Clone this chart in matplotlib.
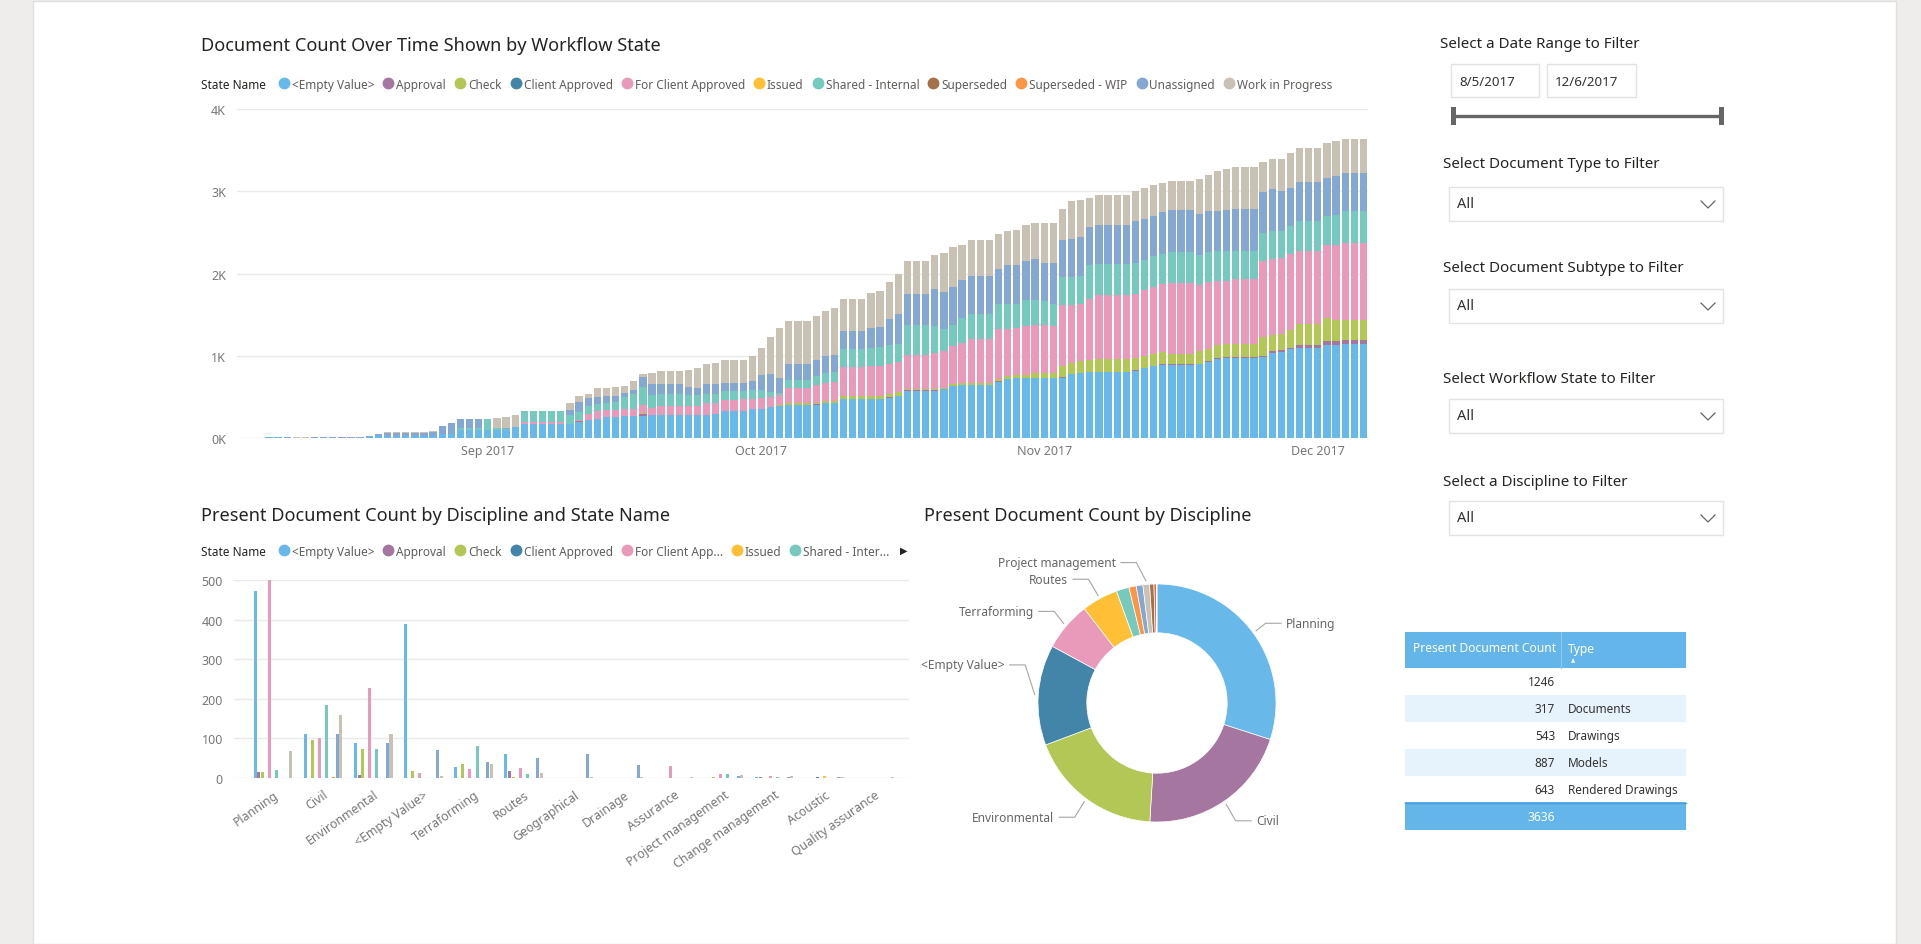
import numpy as np
import pandas as pd
import matplotlib
matplotlib.use("Agg")
import matplotlib.pyplot as plt
from matplotlib.patches import Rectangle
from matplotlib.lines import Line2D

plt.rcParams["font.family"] = ["Noto Sans", "DejaVu Sans"]

W, H = 1921, 945

# ---------------- data ----------------
states = ["<Empty Value>", "Approval", "Check", "Client Approved", "For Client Approved",
          "Issued", "Shared - Internal", "Superseded", "Superseded - WIP", "Unassigned",
          "Work in Progress"]
state_colors = ["#69B8EA", "#A476A0", "#B3C757", "#4285A8", "#E99ABA", "#FFC037",
                "#75C9BE", "#A6704A", "#FC9644", "#85A8D2", "#C9C2B4"]

# daily document counts per state, 8/5/2017 .. 12/6/2017
days = pd.date_range("2017-08-05", "2017-12-06", freq="D")
cnt_empty = [0, 0, 0, 10, 10, 0, 0, 0, 0, 0,
             0, 0, 0, 0, 8, 20, 25, 25, 25, 25,
             25, 25, 45, 45, 100, 100, 100, 100, 100, 100,
             135, 165, 165, 165, 165, 165, 170, 200, 219, 231,
             250, 260, 264, 268, 272, 276, 284, 284, 284, 284,
             284, 284, 296, 324, 324, 332, 349, 357, 373, 389,
             400, 400, 400, 405, 420, 425, 470, 470, 470, 470,
             470, 491, 507, 576, 576, 576, 576, 592, 633, 641,
             641, 641, 641, 684, 717, 725, 725, 725, 725, 725,
             733, 778, 790, 798, 798, 798, 798, 798, 818, 847,
             871, 885, 885, 885, 885, 895, 923, 963, 971, 975,
             975, 975, 988, 1034, 1046, 1079, 1095, 1095, 1095, 1135,
             1135, 1148, 1148, 1148]
cnt_approval = [0, 0, 0, 0, 0, 0, 0, 0, 0, 0,
                0, 0, 0, 0, 0, 0, 0, 0, 0, 0,
                0, 0, 0, 0, 0, 0, 0, 0, 0, 0,
                0, 0, 0, 0, 0, 0, 0, 8, 0, 0,
                0, 0, 0, 0, 18, 0, 0, 0, 0, 0,
                0, 0, 0, 0, 0, 0, 0, 0, 0, 0,
                5, 5, 5, 5, 5, 5, 8, 8, 8, 8,
                8, 8, 8, 5, 5, 5, 5, 5, 5, 5,
                5, 5, 5, 5, 5, 5, 5, 5, 5, 5,
                5, 5, 5, 5, 8, 8, 8, 8, 5, 5,
                5, 15, 10, 10, 10, 10, 10, 10, 10, 10,
                10, 10, 10, 20, 20, 16, 35, 35, 35, 40,
                40, 44, 44, 44]
cnt_check = [0, 0, 0, 0, 0, 0, 0, 0, 0, 0,
             0, 0, 0, 0, 0, 0, 0, 0, 0, 0,
             0, 0, 0, 0, 0, 0, 0, 0, 0, 0,
             0, 0, 0, 0, 0, 0, 0, 0, 0, 0,
             0, 0, 0, 0, 8, 0, 0, 0, 0, 0,
             0, 0, 0, 0, 0, 0, 0, 0, 5, 8,
             15, 15, 15, 15, 20, 20, 32, 32, 32, 32,
             32, 40, 40, 15, 15, 15, 15, 15, 20, 25,
             28, 28, 28, 25, 28, 40, 40, 65, 65, 65,
             138, 133, 138, 150, 151, 151, 151, 151, 150, 146,
             146, 146, 131, 131, 131, 149, 154, 162, 167, 158,
             158, 158, 231, 203, 203, 223, 253, 253, 253, 285,
             257, 240, 240, 240]
cnt_for_client = [0, 0, 0, 0, 0, 0, 0, 0, 0, 0,
                  0, 0, 0, 0, 0, 0, 0, 0, 0, 0,
                  0, 0, 0, 0, 0, 0, 0, 0, 0, 0,
                  0, 25, 25, 25, 25, 25, 0, 10, 73, 100,
                  85, 80, 85, 89, 107, 89, 105, 105, 105, 105,
                  105, 146, 134, 134, 134, 138, 129, 130, 121, 122,
                  185, 185, 185, 215, 220, 225, 358, 358, 358, 366,
                  366, 365, 370, 410, 410, 410, 442, 442, 461, 489,
                  534, 534, 534, 608, 580, 568, 592, 584, 584, 567,
                  738, 706, 701, 742, 787, 787, 787, 787, 783, 798,
                  815, 831, 864, 864, 864, 811, 811, 775, 766, 787,
                  787, 787, 920, 925, 921, 924, 888, 888, 888, 884,
                  920, 944, 944, 944]
cnt_shared = [0, 0, 0, 0, 0, 0, 0, 0, 0, 0,
              0, 0, 0, 0, 0, 0, 0, 0, 0, 0,
              0, 0, 0, 0, 18, 18, 18, 130, 25, 15,
              0, 143, 143, 143, 143, 143, 110, 95, 100, 80,
              90, 95, 150, 182, 215, 162, 150, 150, 150, 130,
              138, 109, 109, 110, 110, 98, 102, 93, 61, 32,
              100, 100, 100, 110, 122, 122, 215, 215, 215, 223,
              225, 223, 223, 365, 365, 365, 325, 276, 260, 300,
              305, 305, 305, 312, 304, 296, 313, 296, 284, 272,
              345, 337, 337, 405, 369, 369, 369, 369, 377, 365,
              377, 365, 373, 373, 373, 357, 365, 361, 357, 349,
              349, 349, 349, 332, 324, 337, 365, 365, 365, 357,
              365, 381, 381, 381]
cnt_unassigned = [0, 0, 0, 0, 0, 10, 0, 0, 8, 8,
                  8, 8, 8, 8, 12, 25, 40, 40, 40, 40,
                  40, 52, 105, 135, 112, 112, 112, 0, 0, 5,
                  0, 0, 0, 0, 0, 0, 60, 130, 100, 85,
                  80, 80, 50, 41, 122, 126, 114, 114, 114, 101,
                  85, 114, 114, 101, 101, 101, 117, 190, 223, 179,
                  195, 195, 195, 200, 215, 215, 223, 223, 223, 243,
                  245, 325, 365, 385, 385, 385, 446, 446, 454, 458,
                  458, 458, 458, 426, 466, 466, 474, 507, 470, 499,
                  446, 466, 474, 467, 474, 474, 474, 474, 503, 507,
                  487, 507, 507, 507, 507, 507, 494, 486, 499, 511,
                  511, 511, 487, 511, 495, 462, 478, 478, 478, 462,
                  470, 459, 459, 459]
cnt_wip = [0, 0, 0, 0, 0, 0, 10, 10, 8, 8,
           8, 8, 8, 8, 8, 0, 8, 8, 8, 8,
           8, 8, 0, 0, 0, 0, 0, 0, 118, 130,
           150, 0, 0, 0, 0, 0, 86, 65, 40, 110,
           100, 105, 88, 109, 41, 142, 162, 162, 162, 211,
           240, 251, 259, 276, 276, 276, 301, 329, 446, 608,
           527, 527, 527, 530, 543, 563, 379, 379, 379, 418,
           438, 446, 486, 397, 397, 397, 421, 479, 491, 434,
           434, 434, 434, 426, 414, 434, 438, 438, 487, 487,
           385, 454, 454, 353, 373, 373, 373, 373, 365, 373,
           373, 357, 360, 360, 360, 426, 438, 487, 506, 507,
           507, 507, 372, 365, 389, 418, 414, 414, 414, 418,
           422, 420, 420, 420]
top_series = [("<Empty Value>", cnt_empty), ("Approval", cnt_approval), ("Check", cnt_check),
              ("For Client Approved", cnt_for_client), ("Shared - Internal", cnt_shared),
              ("Unassigned", cnt_unassigned), ("Work in Progress", cnt_wip)]

# present count by discipline and state
disciplines = ["Planning", "Civil", "Environmental", "<Empty Value>", "Terraforming", "Routes",
               "Geographical", "Drainage", "Assurance", "Project management",
               "Change management", "Acoustic", "Quality assurance"]
disc_empty = [473, 110, 88, 390, 27, 60, 0, 0, 0, 0, 3, 0, 0]
disc_approval = [15, 0, 7, 0, 0, 18, 0, 0, 0, 0, 3, 0, 0]
disc_check = [15, 97, 74, 18, 36, 3, 0, 0, 0, 3, 0, 0, 0]
disc_client_approved = [0, 0, 0, 0, 0, 0, 0, 0, 0, 0, 0, 3, 0]
disc_for_client = [500, 100, 227, 13, 23, 25, 0, 0, 30, 10, 4, 0, 0]
disc_issued = [0, 0, 0, 0, 0, 0, 0, 0, 0, 0, 0, 4, 0]
disc_shared = [20, 184, 72, 0, 80, 10, 0, 0, 0, 9, 3, 0, 0]
disc_superseded = [0, 0, 0, 0, 0, 0, 0, 0, 0, 0, 0, 0, 0]
disc_superseded_wip = [0, 3, 0, 0, 0, 0, 0, 0, 0, 0, 0, 0, 0]
disc_unassigned = [0, 112, 88, 70, 40, 50, 60, 33, 0, 4, 3, 3, 0]
disc_wip = [67, 158, 110, 5, 36, 13, 3, 3, 3, 7, 5, 2, 3]
disc_by_state = [disc_empty, disc_approval, disc_check, disc_client_approved, disc_for_client,
                 disc_issued, disc_shared, disc_superseded, disc_superseded_wip,
                 disc_unassigned, disc_wip]

donut_colors = ["#69B8EA", "#A476A0", "#B3C757", "#4285A8", "#E99ABA", "#FFC037",
                "#75C9BE", "#FC9644", "#85A8D2", "#C9C2B4", "#A6704A", "#E0704A", "#7A4A2E"]
donut_labelled = {"Planning": 0.67, "Civil": -0.99, "Environmental": -0.96,
                  "<Empty Value>": 0.32, "Terraforming": 0.77, "Routes": 1.04,
                  "Project management": 1.18}

doc_types = ["", "Documents", "Drawings", "Models", "Rendered Drawings"]
doc_counts = [1246, 317, 543, 887, 643]

date_from, date_to = "8/5/2017", "12/6/2017"
filter_titles = ["Select Document Type to Filter", "Select Document Subtype to Filter",
                 "Select Workflow State to Filter", "Select a Discipline to Filter"]

# ---------------- helpers (pixel coords, y from top) ----------------
fig = plt.figure(figsize=(W / 100, H / 100), dpi=100, facecolor="#EEEDEC")
renderer = fig.canvas.get_renderer()


def ftext(x, y, s, **kw):
    return fig.text(x / W, 1 - y / H, s, **kw)


def frect(x0, y0, x1, y1, **kw):
    fig.add_artist(Rectangle((x0 / W, 1 - y1 / H), (x1 - x0) / W, (y1 - y0) / H,
                             transform=fig.transFigure, **kw))


def fline(xs, ys, **kw):
    fig.add_artist(Line2D([x / W for x in xs], [1 - y / H for y in ys],
                          transform=fig.transFigure, **kw))


def axes_px(x0, y0, x1, y1):
    return fig.add_axes([x0 / W, 1 - y1 / H, (x1 - x0) / W, (y1 - y0) / H])


def legend_row(y, labels, colors, fs=8.5):
    t = ftext(201, y, "State Name", fontsize=fs, color="#252423", va="center_baseline",
              fontweight="semibold")
    x = t.get_window_extent(renderer).x1 + 18
    for lab, col in zip(labels, colors):
        fline([x], [y], marker="o", ms=7.5, color=col, linestyle="none")
        t = ftext(x + 8, y, lab, fontsize=fs, color="#605E5C", va="center_baseline")
        x = t.get_window_extent(renderer).x1 + 14
    return x


def style_axes(ax):
    for s in ax.spines.values():
        s.set_visible(False)
    ax.grid(axis="y", color="#EAEAEA", linewidth=1)
    ax.set_axisbelow(True)
    ax.tick_params(length=0, labelsize=9, colors="#777777")


# page canvas (behind everything)
frect(33, 2, 1896, 945, facecolor="white", edgecolor="#E1DFDD", linewidth=1, zorder=-10)

# ---------------- top: stacked columns over time ----------------
ftext(201, 46, "Document Count Over Time Shown by Workflow State", fontsize=13.1,
      color="#252423", va="center")
legend_row(84, states, state_colors)

ax1 = axes_px(237, 110, 1368, 439)
ax1.patch.set_alpha(0)
xd = np.arange(len(days))
bottom = np.zeros(len(days))
for name, vals in top_series:
    ax1.bar(xd, vals, bottom=bottom, width=0.8, color=state_colors[states.index(name)],
            linewidth=0)
    bottom += np.array(vals)
ax1.set_xlim(-0.5, len(days) - 0.5)
ax1.set_ylim(0, 4000)
ax1.set_yticks([0, 1000, 2000, 3000, 4000])
ax1.set_yticklabels(["0K", "1K", "2K", "3K", "4K"])
month_idx = [i for i, d in enumerate(days) if d.day == 1]
ax1.set_xticks(month_idx)
ax1.set_xticklabels([days[i].strftime("%b %Y") for i in month_idx])
style_axes(ax1)
ax1.tick_params(axis="y", pad=8)
ax1.tick_params(axis="x", pad=4)

# ---------------- bottom left: clustered columns ----------------
ftext(201, 516, "Present Document Count by Discipline and State Name", fontsize=13.1,
      color="#252423", va="center")
short = ["<Empty Value>", "Approval", "Check", "Client Approved", "For Client App...",
         "Issued", "Shared - Inter..."]
legend_row(551, short, state_colors[:7])
ftext(904, 551, "\u25B6", fontsize=7, color="#252423", va="center", ha="center")

ax2 = axes_px(234, 581, 909, 779)
ax2.patch.set_alpha(0)
xb = np.arange(len(disciplines))
offsets = (np.arange(len(states)) - 5) * 0.0706
for k, vals in enumerate(disc_by_state):
    ax2.bar(xb + offsets[k], vals, width=0.06, color=state_colors[k], linewidth=0,
            clip_on=False)
ax2.set_xlim(-0.78, 12.69)
ax2.set_ylim(0, 500)
ax2.set_yticks([0, 100, 200, 300, 400, 500])
ax2.set_xticks(xb)
ax2.set_xticklabels(disciplines, rotation=35, ha="right", rotation_mode="anchor")
style_axes(ax2)
ax2.tick_params(axis="y", pad=8)
ax2.tick_params(axis="x", pad=7, labelsize=8.9)

# ---------------- bottom middle: donut ----------------
ftext(924, 516, "Present Document Count by Discipline", fontsize=13.1, color="#252423",
      va="center")
donut_values = np.array(disc_by_state).sum(axis=0)
cx, cy, rad = 1157, 704, 119
ax3 = axes_px(930, 530, 1400, 890)
ax3.pie(donut_values, colors=donut_colors, startangle=90, counterclock=False, radius=1,
        wedgeprops=dict(width=0.41, edgecolor="white", linewidth=0.5))
ax3.set_aspect("auto")
ax3.set_xlim((930 - cx) / rad, (1400 - cx) / rad)
ax3.set_ylim((cy - 890) / rad, (cy - 530) / rad)
ax3.axis("off")
tot = donut_values.sum()
cum = np.cumsum(donut_values)
mid = 90 - 360 * (cum - donut_values / 2) / tot
for name, ly in donut_labelled.items():
    a = np.deg2rad(mid[disciplines.index(name)])
    x0, y0 = 1.03 * np.cos(a), 1.03 * np.sin(a)
    side = 1 if x0 >= 0 else -1
    xk = x0 + side * 0.08
    xt = xk + side * 0.13
    ax3.plot([x0, xk, xt], [y0, ly, ly], color="#A6A6A6", linewidth=0.8)
    ax3.text(xt + side * 0.04, ly, name, fontsize=8.6, color="#666666", va="center",
             ha="left" if side > 0 else "right")

# ---------------- table ----------------
tx0, tx1, tdiv = 1405, 1686, 1561
frect(tx0, 633, tx1, 669, facecolor="#63B5EA", edgecolor="none")
ftext(1413, 649, "Present Document Count", fontsize=8.7, color="white", va="center",
      fontweight="semibold")
ftext(1568, 649, "Type", fontsize=8.7, color="white", va="center", fontweight="semibold")
ftext(1573, 661, "\u25B2", fontsize=4, color="white", va="center", ha="center")
fline([tdiv, tdiv], [633, 669], color="#8CC8EF", linewidth=0.8)
row_top = 669
for i, (n, t) in enumerate(zip(doc_counts, doc_types)):
    y0 = row_top + i * 27
    if i % 2 == 1:
        frect(tx0, y0, tx1, y0 + 27, facecolor="#E6F3FC", edgecolor="none")
    ftext(1555, y0 + 14, str(n), fontsize=8.5, color="#333333", va="center", ha="right")
    ftext(1568, y0 + 14, t, fontsize=8.5, color="#333333", va="center")
frect(tx0, 803, tx1, 831, facecolor="#63B5EA", edgecolor="none")
fline([tx0, tx1], [803.5, 803.5], color="#4A9FD8", linewidth=1)
ftext(1555, 818, str(sum(doc_counts)), fontsize=8.7, color="white", va="center", ha="right",
      fontweight="bold")

# ---------------- filter panel ----------------
ftext(1440, 44, "Select a Date Range to Filter", fontsize=10.9, color="#252423", va="center")
for bx0, bx1, s in [(1451, 1539, date_from), (1547, 1636, date_to)]:
    frect(bx0, 65, bx1, 98, facecolor="white", edgecolor="#E3E3E3", linewidth=1)
    ftext(bx0 + 8, 82, s, fontsize=9.6, color="#333333", va="center")
fline([1453, 1721], [117, 117], color="#666666", linewidth=2.4, solid_capstyle="butt")
for hx in (1453, 1721):
    frect(hx - 2.5, 108, hx + 2.5, 126, facecolor="#666666", edgecolor="none")

for title, ty, by in zip(filter_titles, [165, 268, 380, 482], [188, 290, 400, 502]):
    ftext(1443, ty, title, fontsize=10.9, color="#252423", va="center")
    frect(1449, by, 1723, by + 34, facecolor="white", edgecolor="#E3E3E3", linewidth=1)
    ftext(1457, by + 17, "All", fontsize=10.5, color="#333333", va="center")
    fline([1701, 1708, 1715], [by + 14, by + 21, by + 14], color="#666666", linewidth=0.9)

fig.savefig("out.png", dpi=100, facecolor=fig.get_facecolor())
